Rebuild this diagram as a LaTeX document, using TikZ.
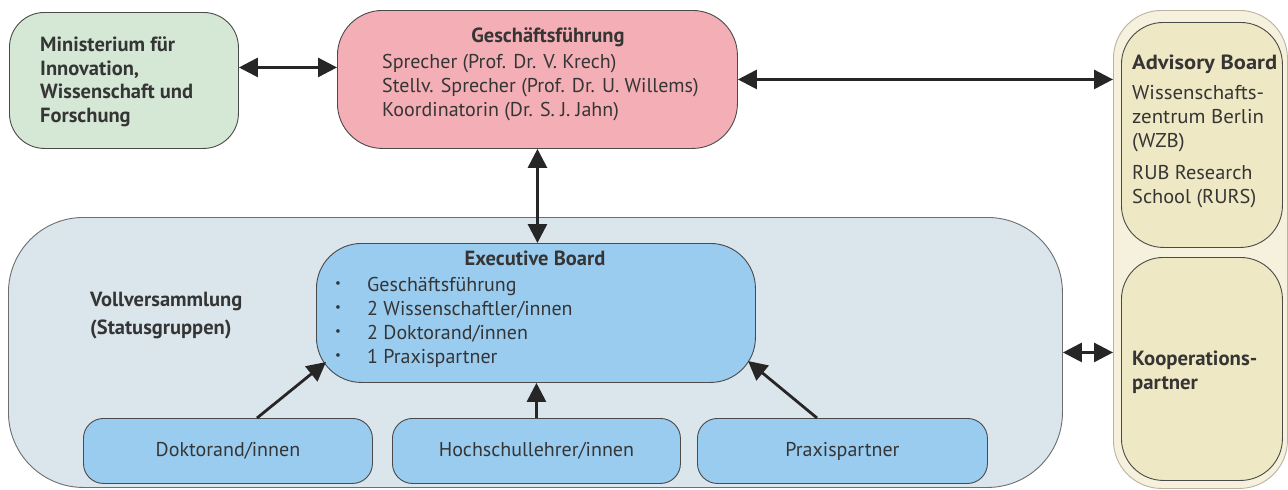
\documentclass[tikz,border=0pt]{standalone}
\usepackage{fontspec}
\usepackage{graphicx}
\setmainfont{PT Sans}
\usetikzlibrary{arrows.meta}
\definecolor{tx}{HTML}{353535}
\definecolor{edge}{HTML}{4A4A4A}
\definecolor{edgelight}{HTML}{B8B4A0}
\definecolor{mingreen}{HTML}{D5E8D6}
\definecolor{gfpink}{HTML}{F3AFB5}
\definecolor{vvgray}{HTML}{DBE5EC}
\definecolor{ebblue}{HTML}{9ACCEF}
\definecolor{advout}{HTML}{F6F1DC}
\definecolor{advin}{HTML}{EFE8C4}
\newcommand{\fitw}[2]{\resizebox{#1}{\height}{\begin{tabular}[t]{@{}l@{}}#2\end{tabular}}}
\begin{document}
\begin{tikzpicture}[x=1pt,y=-1pt,
  box/.style={draw=edge, line width=0.9pt, inner sep=0pt, anchor=north west},
  lbl/.style={text=tx, font=\fontsize{20}{24}\selectfont, inner sep=0pt},
  blbl/.style={text=tx, font=\fontsize{20.5}{24}\selectfont\bfseries, inner sep=0pt},
  arr/.style={draw=black!85, line width=2.8pt,
    {Triangle[length=19pt,width=19pt]}-{Triangle[length=19pt,width=19pt]}},
  sarr/.style={draw=black!85, line width=2.8pt, -{Triangle[length=19pt,width=19pt]}}]
\useasboundingbox (0,0) rectangle (1288,490);
\fill[white] (0,0) rectangle (1288,490);

% boxes
\node[box, fill=mingreen, rounded corners=35pt, minimum width=229pt, minimum height=136pt] (min) at (9,12) {};
\node[box, fill=gfpink, rounded corners=45pt, minimum width=400pt, minimum height=138pt] (gf) at (337,10) {};
\node[box, draw=edgelight, fill=advout, rounded corners=48pt, minimum width=174pt, minimum height=478pt] (adv) at (1113,10) {};
\node[box, fill=advin, rounded corners=42pt, minimum width=161pt, minimum height=225pt] (advb) at (1121,22) {};
\node[box, fill=advin, rounded corners=42pt, minimum width=161pt, minimum height=223pt] (koop) at (1121,257) {};
\node[box, draw=edge!80, fill=vvgray, rounded corners=75pt, minimum width=1054pt, minimum height=270pt] (vv) at (8,217) {};
\node[box, fill=ebblue, rounded corners=45pt, minimum width=439pt, minimum height=139pt] (eb) at (316,243) {};
\node[box, fill=ebblue, rounded corners=20pt, minimum width=289pt, minimum height=65pt, text=tx, font=\fontsize{20}{24}\selectfont] (dok) at (83,418) {Doktorand/innen};
\node[box, fill=ebblue, rounded corners=20pt, minimum width=288pt, minimum height=65pt, text=tx, font=\fontsize{20}{24}\selectfont] (hoch) at (392,418) {Hochschullehrer/innen};
\node[box, fill=ebblue, rounded corners=20pt, minimum width=290pt, minimum height=65pt, text=tx, font=\fontsize{20}{24}\selectfont] (prax) at (697,418) {Praxispartner};

% texts
\node[blbl, anchor=north west, align=left, font=\fontsize{20.5}{23.5}\selectfont\bfseries] (mintext) at (40,37) {Ministerium für\\Innovation,\\Wissenschaft und\\Forschung};
\node[blbl] (gftitle) at (548,37) {Geschäftsführung};
\node[lbl, anchor=north west, align=left] (gftext) at (382,54) {Sprecher (Prof. Dr. V. Krech)\\Stellv. Sprecher (Prof. Dr. U. Willems)\\Koordinatorin (Dr. S. J. Jahn)};
\node[blbl, anchor=base west] (advtitle) at (1132,69) {\fitw{145pt}{Advisory Board}};
\node[lbl, anchor=base west] (wzb) at (1132,99) {\fitw{132pt}{Wissenschafts-\\zentrum Berlin\\(WZB)}};
\node[lbl, anchor=base west] (rurs) at (1132,179) {\fitw{124pt}{RUB Research\\School (RURS)}};
\node[blbl, anchor=base west] (kooptext) at (1132,365) {\fitw{125pt}{Kooperations-\\partner}};
\node[blbl, anchor=north west, align=left, font=\fontsize{20.5}{28}\selectfont\bfseries] (vvtext) at (90,292) {Vollversammlung\\(Statusgruppen)};
\node[blbl] (ebtitle) at (535,258) {Executive Board};
\node[text=tx, inner sep=0pt, anchor=north west, align=left, font=\fontsize{13}{24}\selectfont] (ebbul) at (335,281) {•\\•\\•\\•};
\node[lbl, anchor=north west, align=left] (ebtext) at (367,277) {Geschäftsführung\\2 Wissenschaftler/innen\\2 Doktorand/innen\\1 Praxispartner};

% connectors
\draw[arr] ([yshift=13pt]min.east) -- ([yshift=13pt]min.east -| gf.west);
\draw[arr] (gf.east) -- (gf.east -| adv.west);
\draw[arr] (gf.south) -- (gf.south |- eb.north);
\draw[arr] (vv.east) -- (vv.east -| adv.west);
\coordinate (d1) at (257,418);
\coordinate (d2) at (326,362);
\coordinate (p1) at (817,418);
\coordinate (p2) at (748,361);
\draw[sarr] (d1) -- (d2);
\draw[sarr] (hoch.north) -- (hoch.north |- eb.south);
\draw[sarr] (p1) -- (p2);
\end{tikzpicture}
\end{document}
